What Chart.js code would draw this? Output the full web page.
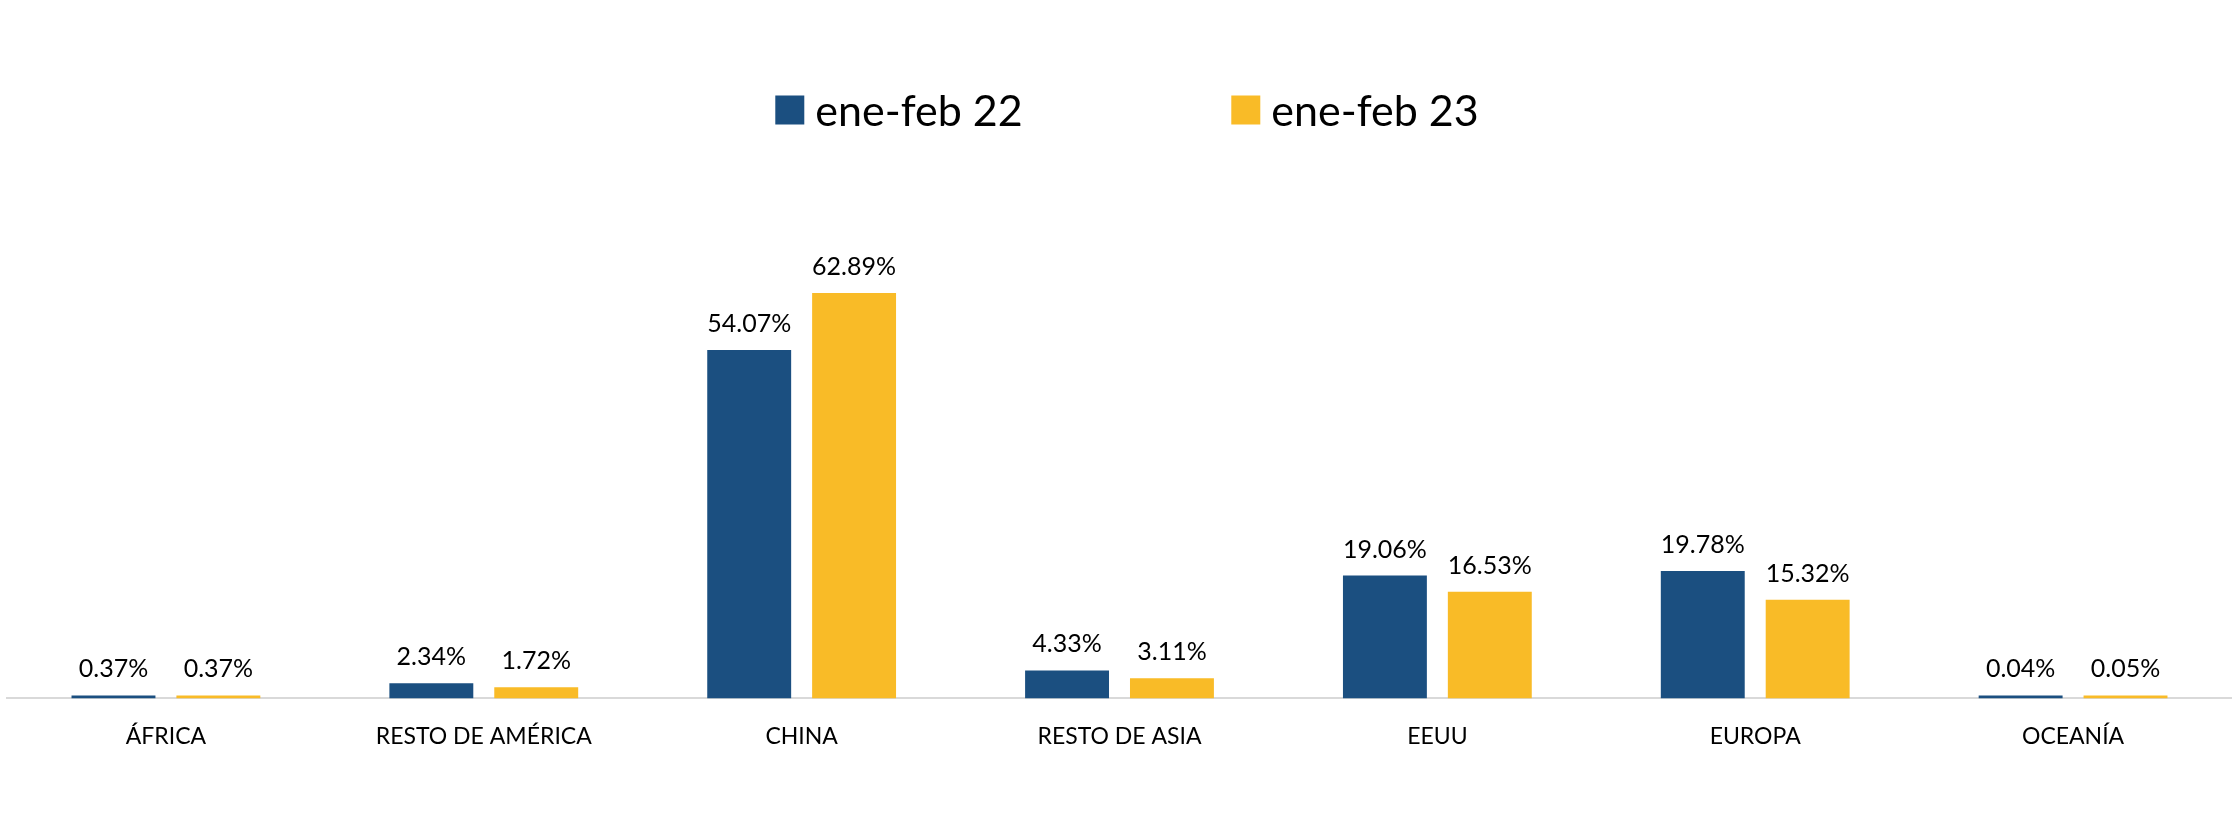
<!DOCTYPE html>
<html>
<head>
<meta charset="utf-8">
<script src="https://cdn.jsdelivr.net/npm/chart.js@4.4.0/dist/chart.umd.min.js"></script>
<style>
  body { margin: 0; background: #fff; }
  #wrap { width: 2232px; height: 836px; }
</style>
</head>
<body>
<div id="wrap"><canvas id="shareChart" width="2232" height="836"></canvas></div>
<script>
const regions = ["ÁFRICA", "RESTO DE AMÉRICA", "CHINA", "RESTO DE ASIA", "EEUU", "EUROPA", "OCEANÍA"];
const share22 = [0.37, 2.34, 54.07, 4.33, 19.06, 19.78, 0.04];
const share23 = [0.37, 1.72, 62.89, 3.11, 16.53, 15.32, 0.05];
const seriesNames = ["ene-feb 22", "ene-feb 23"];

const FONT = "Lato, 'Open Sans', sans-serif";

// value labels above the bars
const barLabels = {
  id: 'barLabels',
  afterDatasetsDraw(chart) {
    const ctx = chart.ctx;
    ctx.save();
    ctx.font = "25px " + FONT;
    ctx.fillStyle = '#000';
    ctx.textAlign = 'center';
    ctx.textBaseline = 'alphabetic';
    chart.data.datasets.forEach((ds, i) => {
      chart.getDatasetMeta(i).data.forEach((bar, j) => {
        ctx.fillText(ds.data[j].toFixed(2) + '%', bar.x, bar.y - 18);
      });
    });
    ctx.restore();
  }
};

// wide spaced legend on top
const topLegend = {
  id: 'topLegend',
  afterDraw(chart) {
    const ctx = chart.ctx;
    const box = 29, gapText = 11, pitch = 456, cy = 110;
    ctx.save();
    ctx.font = "43px " + FONT;
    ctx.textBaseline = 'middle';
    const n = chart.data.datasets.length;
    const lastW = box + gapText + ctx.measureText(chart.data.datasets[n - 1].label).width;
    const total = pitch * (n - 1) + lastW;
    let x = chart.width / 2 - total / 2 + 11;
    chart.data.datasets.forEach((ds) => {
      ctx.fillStyle = ds.backgroundColor;
      ctx.fillRect(x, cy - box / 2, box, box);
      ctx.fillStyle = '#000';
      ctx.fillText(ds.label, x + box + gapText, cy + 2);
      x += pitch;
    });
    ctx.restore();
  }
};

new Chart(document.getElementById('shareChart').getContext('2d'), {
  type: 'bar',
  data: {
    labels: regions,
    datasets: [
      { label: seriesNames[0], data: share22, backgroundColor: '#1B4F80', minBarLength: 3 },
      { label: seriesNames[1], data: share23, backgroundColor: '#F9BB27', minBarLength: 3 }
    ]
  },
  options: {
    responsive: false,
    animation: false,
    events: [],
    categoryPercentage: 0.66,
    barPercentage: 0.8,
    layout: { padding: { top: 215, bottom: 62, left: 7, right: 0 } },
    plugins: {
      legend: { display: false },
      tooltip: { enabled: false }
    },
    scales: {
      x: {
        grid: { display: false, drawTicks: false },
        border: { color: '#d9d9d9', width: 2 },
        ticks: { color: '#000', font: { family: FONT, size: 23 }, padding: 24, maxRotation: 0 }
      },
      y: {
        display: false,
        min: 0,
        max: 75
      }
    }
  },
  plugins: [barLabels, topLegend]
});
</script>
</body>
</html>
